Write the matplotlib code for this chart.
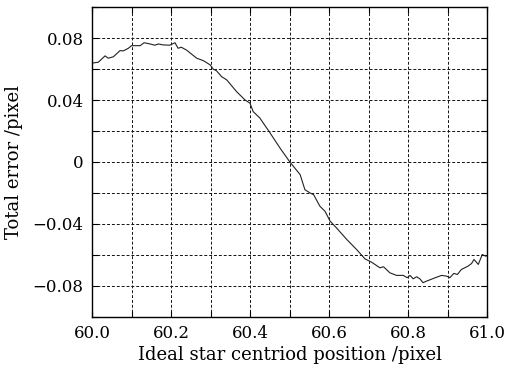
import matplotlib
matplotlib.use("Agg")
import matplotlib.pyplot as plt
from matplotlib.ticker import MultipleLocator

# centroid position (pixel) and total error (pixel)
position = [
    60.000, 60.002, 60.016, 60.033, 60.041, 60.054, 60.071, 60.079, 60.092,
    60.100, 60.122, 60.132, 60.147, 60.159, 60.168, 60.180, 60.197, 60.210,
    60.218, 60.226, 60.239, 60.265, 60.282, 60.299, 60.307, 60.315, 60.328,
    60.341, 60.366, 60.387, 60.400, 60.408, 60.425, 60.451, 60.476, 60.501,
    60.527, 60.539, 60.552, 60.561, 60.577, 60.590, 60.603, 60.619, 60.645,
    60.670, 60.691, 60.708, 60.729, 60.738, 60.754, 60.771, 60.788, 60.798,
    60.805, 60.813, 60.822, 60.830, 60.838, 60.847, 60.864, 60.885, 60.898,
    60.906, 60.916, 60.925, 60.935, 60.952, 60.961, 60.967, 60.978, 60.988,
    60.997, 61.000,
]
total_error = [
    0.0632, 0.0640, 0.0645, 0.0686, 0.0671, 0.0680, 0.0720, 0.0718, 0.0735,
    0.0752, 0.0752, 0.0771, 0.0763, 0.0755, 0.0763, 0.0757, 0.0755, 0.0771,
    0.0735, 0.0742, 0.0724, 0.0671, 0.0655, 0.0628, 0.0600, 0.0590, 0.0552,
    0.0531, 0.0455, 0.0402, 0.0380, 0.0326, 0.0284, 0.0187, 0.0090, 0.0000,
    -0.0082, -0.0179, -0.0200, -0.0211, -0.0286, -0.0319, -0.0383, -0.0426,
    -0.0501, -0.0566, -0.0626, -0.0648, -0.0684, -0.0677, -0.0716, -0.0733,
    -0.0733, -0.0748, -0.0733, -0.0755, -0.0742, -0.0755, -0.0780, -0.0770,
    -0.0753, -0.0733, -0.0738, -0.0748, -0.0720, -0.0727, -0.0695, -0.0673,
    -0.0656, -0.0630, -0.0662, -0.0598, -0.0609, -0.0605,
]

plt.rcParams["font.family"] = ["DejaVu Serif"]
plt.rcParams["axes.unicode_minus"] = True

fig = plt.figure(figsize=(5.17, 3.71), dpi=100)
ax = fig.add_axes([92 / 517, 1 - 316.7 / 371, 395 / 517, 309.4 / 371])

ax.plot(position, total_error, color="#222222", linewidth=0.8)

ax.set_xlim(60.0, 61.0)
ax.set_ylim(-0.1, 0.1)
ax.xaxis.set_major_locator(MultipleLocator(0.2))
ax.xaxis.set_minor_locator(MultipleLocator(0.1))
ax.yaxis.set_major_locator(MultipleLocator(0.04))
ax.yaxis.set_minor_locator(MultipleLocator(0.02))
ax.xaxis.set_major_formatter(lambda v, p: f"{v:.1f}")
ax.yaxis.set_major_formatter(lambda v, p: "0" if abs(v) < 1e-9 else f"{v:.2f}".replace("-", "\u2212"))

ax.grid(which="both", color="#111111", linestyle=(0, (3, 2)), linewidth=0.7)
ax.tick_params(which="both", direction="in", top=True, right=True,
               length=4, width=0.8, labelsize=12, pad=6)
for s in ax.spines.values():
    s.set_linewidth(1.0)

ax.set_xlabel("Ideal star centriod position /pixel", fontsize=13, labelpad=3)
ax.set_ylabel("Total error /pixel", fontsize=13, labelpad=7)

fig.savefig("out.png", dpi=100)
